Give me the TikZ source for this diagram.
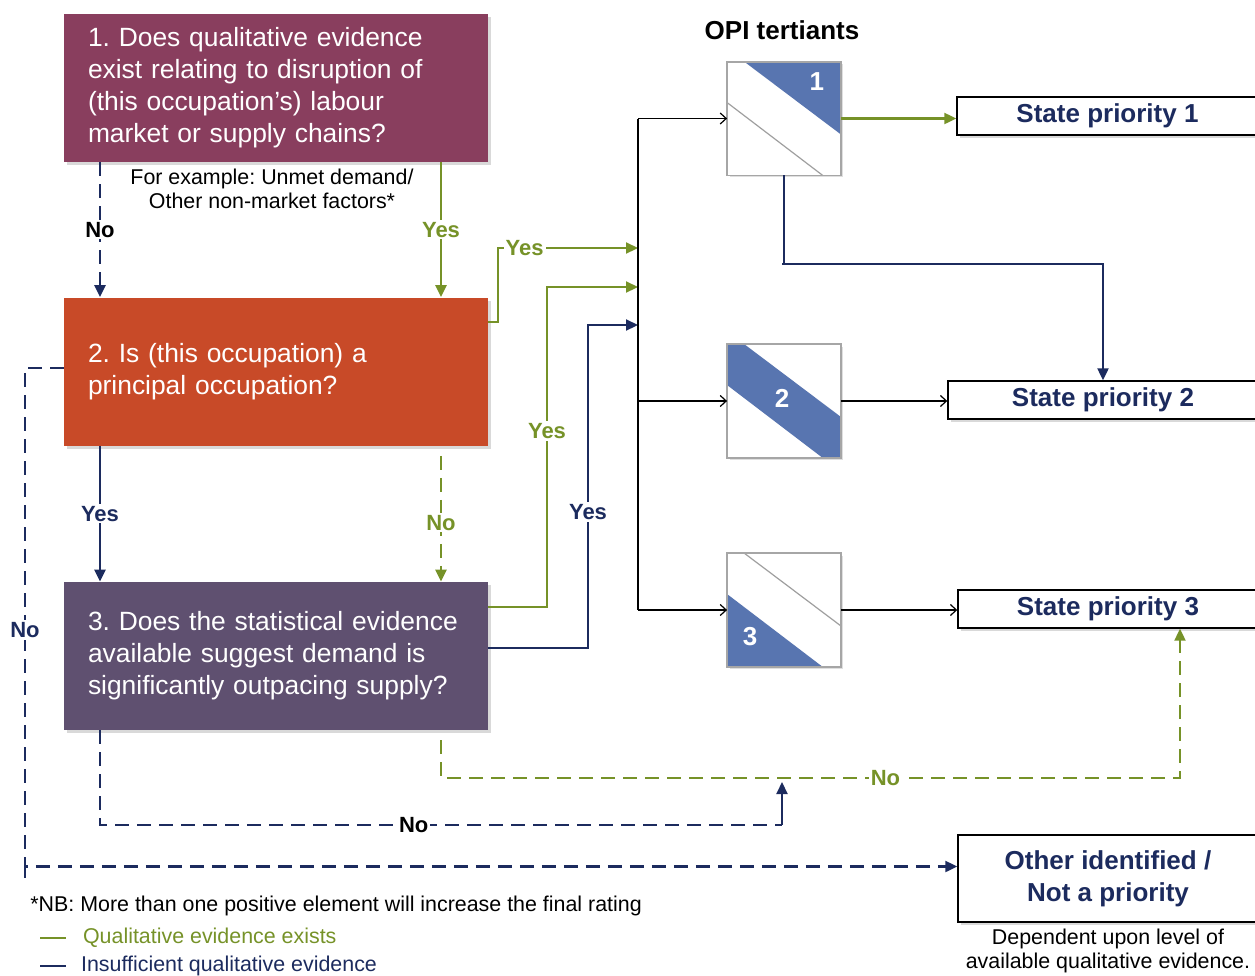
\documentclass[tikz,border=0pt]{standalone}
\usepackage{fontspec}
\setmainfont{Liberation Sans}
\usetikzlibrary{arrows.meta,positioning,calc,shadows}
\definecolor{qone}{RGB}{137,62,94}
\definecolor{qtwo}{RGB}{200,74,40}
\definecolor{qthree}{RGB}{95,80,112}
\definecolor{evgreen}{RGB}{118,146,40}
\definecolor{evnavy}{RGB}{28,43,94}
\definecolor{tblue}{RGB}{88,117,176}
\frenchspacing
\hyphenpenalty=10000

\begin{document}
\begin{tikzpicture}[x=0.5pt, y=-0.5pt, line join=miter,
    qbox/.style={minimum width=212pt, minimum height=74pt, text width=188pt, inner xsep=12pt, align=left, text=white, font=\fontsize{13.2}{16}\selectfont, drop shadow={shadow xshift=1.5pt, shadow yshift=-1.5pt, opacity=0.3}},
    spbox/.style={draw=black, line width=0.7pt, fill=white, minimum height=19pt, text=evnavy, font=\bfseries\fontsize{13}{16}\selectfont, align=center, drop shadow={shadow xshift=1.5pt, shadow yshift=-1.5pt, opacity=0.3}},
    tert/.style={minimum size=56.5pt, inner sep=0pt, fill=white, drop shadow={shadow xshift=1pt, shadow yshift=-1pt, opacity=0.25}},
    tnum/.style={text=white, font=\bfseries\fontsize{13}{15}\selectfont, inner sep=0pt},
    lbl/.style={fill=white, inner sep=1pt, font=\bfseries\fontsize{11}{13}\selectfont},
    small/.style={font=\fontsize{10.7}{11.8}\selectfont, align=center, inner sep=0pt},
    yesline/.style={evgreen, line width=1.1pt, -{Triangle[length=6pt,width=5.5pt]}},
    insline/.style={evnavy, line width=1.1pt, -{Triangle[length=6pt,width=5.5pt]}},
    noline/.style={dash pattern=on 7pt off 4pt},
    busline/.style={black, line width=0.6pt},
    busarrow/.style={black, line width=0.6pt, -{Straight Barb[length=3pt,width=5.5pt]}}]
    \path[use as bounding box] (0,0) rectangle (1255,976);
    \coordinate (cl) at (100,0);
    \coordinate (cr) at (441,0);
    \coordinate (bus) at (638,0);
    \coordinate (gy1) at (498,248);
    \coordinate (gy2) at (547,287);
    \coordinate (ny2) at (588,325);
    \coordinate (nl) at (25,0);
    \coordinate (gn) at (782,778);
    \coordinate (nn) at (782,825);
    \coordinate (g3) at (1180,0);
    \coordinate (tdown) at (782,264);

    \node[qbox, fill=qone] (q1) at (276,88) {1. Does qualitative evidence\\exist relating to disruption of\\(this occupation’s) labour\\market or supply chains?};
    \node[qbox, fill=qtwo] (q2) at (276,371.5) {2. Is (this occupation) a\\principal occupation?};
    \node[qbox, fill=qthree] (q3) at (276,656) {3. Does the statistical evidence\\available suggest demand is\\significantly outpacing supply?};
    \node[small] (note) at (272,189) {For example: Unmet demand/\\Other non-market factors*};

    \node[font=\bfseries\fontsize{13}{15}\selectfont] (opi) at (782,30) {OPI tertiants};
    \node[tert] (t1) at (784,118.5) {};
    \node[tert] (t2) at (784,401) {};
    \node[tert] (t3) at (784,610) {};
    \foreach \t in {t1,t2,t3} {
        \coordinate (\t a) at ($(\t.north west)!0.15!(\t.north east)$);
        \coordinate (\t b) at ($(\t.north east)!0.64!(\t.south east)$);
        \coordinate (\t c) at ($(\t.north west)!0.36!(\t.south west)$);
        \coordinate (\t d) at ($(\t.south west)!0.84!(\t.south east)$);
    }
    \fill[tblue] (t1a) -- (t1.north east) -- (t1b) -- cycle;
    \draw[gray!75, line width=0.6pt] (t1c) -- (t1d);
    \fill[tblue] (t2.north west) -- (t2a) -- (t2b) -- (t2.south east) -- (t2d) -- (t2c) -- cycle;
    \draw[gray!75, line width=0.6pt] (t3a) -- (t3b);
    \fill[tblue] (t3c) -- (t3d) -- (t3.south west) -- cycle;
    \foreach \t in {t1,t2,t3} \draw[gray!70, line width=0.9pt] (\t.north west) rectangle (\t.south east);
    \node[tnum] at ($(t1.north east)+(-24,20)$) {1};
    \node[tnum] at ($(t2.center)+(-2,-3)$) {2};
    \node[tnum] at ($(t3.south west)+(23,-30)$) {3};

    \node[spbox, minimum width=150.5pt] (sp1) at (1107.5,116) {State priority 1};
    \node[spbox, minimum width=155pt] (sp2) at (1103,400) {State priority 2};
    \node[spbox, minimum width=150pt] (sp3) at (1108,609) {State priority 3};
    \node[spbox, minimum width=150pt, minimum height=43.5pt] (other) at (1108,878.5) {Other identified /\\Not a priority};
    \node[small, below=3pt of other] (dep) {Dependent upon level of\\available qualitative evidence.};

    \draw[insline, noline] (cl |- q1.south) -- node[lbl, text=black] {No} (cl |- q2.north);
    \draw[yesline] (cr |- q1.south) -- node[lbl, text=evgreen] {Yes} (cr |- q2.north);
    \draw[insline] (cl |- q2.south) -- node[lbl, text=evnavy] {Yes} (cl |- q3.north);
    \draw[yesline, noline] ($(cr |- q2.south)+(0,10)$) -- node[lbl, text=evgreen, yshift=-2pt] {No} (cr |- q3.north);

    \draw[yesline] ($(q2.north east)+(0,25)$) -| (gy1) -- node[lbl, text=evgreen, pos=0.19] {Yes} (bus |- gy1);
    \draw[yesline] ($(q3.north east)+(0,25)$) -| (gy2) -- (bus |- gy2);
    \node[lbl, text=evgreen] at (547,431) {Yes};
    \draw[insline] ($(q3.north east)+(0,66)$) -| (ny2) -- (bus |- ny2);
    \node[lbl, text=evnavy] at (588,512) {Yes};

    \draw[busline] (bus |- t1) -- (bus |- t3);
    \draw[busarrow] (bus |- t1) -- (t1.west);
    \draw[busarrow] (bus |- t2) -- (t2.west);
    \draw[busarrow] (bus |- t3) -- (t3.west);

    \draw[yesline] (t1.east) -- (t1.east -| sp1.west);
    \draw[busarrow] (t2.east) -- (t2.east -| sp2.west);
    \draw[busarrow] (t3.east) -- (t3.east -| sp3.west);
    \draw[insline] (t1.south) |- (tdown) -| (sp2.north);

    \draw[yesline, noline] ($(cr |- q3.south)+(0,10)$) |- (gn) -- node[lbl, text=evgreen, pos=0.26] {No} (gn -| g3) -- (g3 |- sp3.south);
    \draw[evnavy, line width=1.1pt, noline] (cl |- q3.south) |- node[lbl, text=black, pos=0.73] {No} (nn);
    \draw[insline] (nn) -- ($(gn)+(0,4)$);
    \draw[insline, noline] ($(q2.west)+(0,-3.5)$) -| (nl |- q2.west) -- node[lbl, text=evnavy, pos=0.51] {No} (nl |- other.west) |- ($(other.west)+(0,-12)$);

    \node[anchor=west, inner sep=0pt, font=\fontsize{10.7}{12}\selectfont] (nb) at (30,906) {*NB: More than one positive element will increase the final rating};
    \draw[evgreen, line width=1.1pt] (40,938) -- (66,938) node[right=8pt, inner sep=0pt, font=\fontsize{10.7}{12}\selectfont] (leg1) {Qualitative evidence exists};
    \draw[evnavy, line width=1.1pt] (40,966) -- (66,966) node[right=7pt, inner sep=0pt, font=\fontsize{10.7}{12}\selectfont] (leg2) {Insufficient qualitative evidence};
\end{tikzpicture}
\end{document}
